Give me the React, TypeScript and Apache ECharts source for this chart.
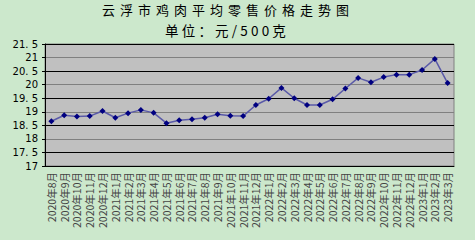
import React, { useEffect, useRef } from "react";
import * as echarts from "echarts";

const titleText = "云浮市鸡肉平均零售价格走势图";
const subtitleText = "单位：元/500克";

const categories = [
  "2020年8月", "2020年9月", "2020年10月", "2020年11月", "2020年12月",
  "2021年1月", "2021年2月", "2021年3月", "2021年4月", "2021年5月", "2021年6月",
  "2021年7月", "2021年8月", "2021年9月", "2021年10月", "2021年11月", "2021年12月",
  "2022年1月", "2022年2月", "2022年3月", "2022年4月", "2022年5月", "2022年6月",
  "2022年7月", "2022年8月", "2022年9月", "2022年10月", "2022年11月", "2022年12月",
  "2023年1月", "2023年2月", "2023年3月",
];

const prices = [
  18.65, 18.87, 18.83, 18.84, 19.03,
  18.78, 18.95, 19.07, 18.96, 18.58, 18.69,
  18.72, 18.78, 18.91, 18.85, 18.84, 19.25,
  19.48, 19.88, 19.5, 19.25, 19.25, 19.46,
  19.86, 20.25, 20.09, 20.28, 20.37, 20.37,
  20.54, 20.95, 20.06,
];

const yMin = 17;
const yMax = 21.5;
const yStep = 0.5;

export default function App() {
  const ref = useRef<HTMLDivElement>(null);

  useEffect(() => {
    if (!ref.current) return;
    const chart = echarts.init(ref.current, undefined, { renderer: "svg" });
    chart.setOption({
      animation: false,
      backgroundColor: "#cce8cc",
      graphic: [
        {
          type: "text",
          left: 102,
          top: 3,
          style: {
            text: titleText,
            fontFamily: "Noto Sans CJK SC",
            fontSize: 13,
            fill: "#000",
          },
        },
        {
          type: "text",
          left: 165,
          top: 23,
          style: {
            text: subtitleText,
            fontFamily: "Noto Sans CJK SC",
            fontSize: 13.5,
            fill: "#000",
          },
        },
      ],
      grid: {
        left: 45,
        right: 21,
        top: 44,
        bottom: 74,
        show: true,
        backgroundColor: "#c0c0c0",
        borderColor: "#808080",
        borderWidth: 1,
      },
      xAxis: {
        type: "category",
        data: categories,
        boundaryGap: true,
        axisLine: { lineStyle: { color: "#000", width: 1 } },
        axisTick: { inside: true, length: 4, lineStyle: { color: "#000" } },
        axisLabel: {
          rotate: 90,
          interval: 0,
          fontSize: 10.5,
          fontFamily: "Noto Sans CJK SC",
          color: "#444",
          margin: 6,
        },
        splitLine: { show: false },
      },
      yAxis: {
        type: "value",
        min: yMin,
        max: yMax,
        interval: yStep,
        axisLine: { show: true, lineStyle: { color: "#000", width: 1 } },
        axisTick: { show: true, length: 3, lineStyle: { color: "#000" } },
        axisLabel: {
          fontSize: 10,
          fontFamily: "DejaVu Sans",
          color: "#000",
          margin: 7,
          formatter: (v: number) =>
            Number.isInteger(v) ? String(v) : String(v).replace(".", ". "),
        },
        splitLine: {
          show: true,
          lineStyle: { color: ["#808080", "#000"], width: 1.2 },
        },
      },
      series: [
        {
          type: "line",
          data: prices,
          symbol: "diamond",
          symbolSize: 6,
          itemStyle: { color: "#000080" },
          lineStyle: { color: "#5a5aa8", width: 1.5 },
        },
      ],
    });
    const spacing: Record<string, string> = {
      [titleText]: "5px",
      [subtitleText]: "3.2px",
    };
    ref.current.querySelectorAll("text").forEach((t) => {
      const s = spacing[t.textContent || ""];
      if (s) t.setAttribute("letter-spacing", s);
    });
    return () => chart.dispose();
  }, []);

  return <div ref={ref} style={{ width: 475, height: 240, position: "absolute", left: 0, top: 0 }} />;
}
